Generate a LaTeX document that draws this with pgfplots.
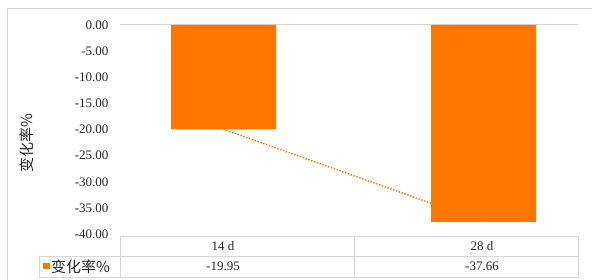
\documentclass[border=0pt]{standalone}
\usepackage{pgfplots}
\pgfplotsset{compat=1.18}
\usepackage{fontspec}
\setmainfont{Liberation Serif}
\newfontfamily\cjk{Noto Sans CJK SC}
\definecolor{barorange}{RGB}{255,118,0}
\definecolor{gridgray}{RGB}{214,214,214}
\definecolor{textgray}{RGB}{38,38,38}
\begin{document}
\begin{tikzpicture}[x=1pt,y=1pt]
\path[use as bounding box] (0,0) rectangle (592,280);
\begin{scope}
\clip (0,0) rectangle (592,280);
% outer frame
\draw[gridgray, line width=0.8pt] (7,-5) -- (7,272) -- (600,272);
\begin{axis}[
  at={(120pt,45.8pt)}, anchor=south west,
  scale only axis, width=458pt, height=209.2pt,
  xmin=0, xmax=1, ymin=-40, ymax=0,
  ytick={-40,-35,...,0},
  xtick=\empty,
  axis line style={draw=none},
  major tick length=0pt,
  yticklabel style={font=\fontsize{13}{15}\selectfont, text=textgray, xshift=-8pt},
  /pgf/number format/assume math mode=true,
  yticklabel={\pgfmathprintnumber[fixed, fixed zerofill, precision=2]{\tick}},
  clip=false,
]
\draw[gridgray, line width=1pt] (axis cs:0,0) -- (axis cs:1,0);
\addplot[barorange, line width=1.4pt, dash pattern=on 1.4pt off 1.6pt] coordinates {(0.226,-19.95) (0.794,-37.66)};
\addplot[ybar, bar width=105pt, fill=barorange, draw=none, bar shift=0pt] coordinates {(0.226,-19.95) (0.794,-37.66)};
\end{axis}
% y label
\node[rotate=90, text=textgray, font=\cjk\fontsize{15}{17}\selectfont] at (27,137) {变化率\%};
% data table
\draw[gridgray, line width=0.8pt] (120,44) -- (578,44) -- (578,3) -- (39,3) -- (39,24) -- (578,24);
\draw[gridgray, line width=0.8pt] (120,44) -- (120,3);
\draw[gridgray, line width=0.8pt] (354,44) -- (354,3);
\begin{scope}[every node/.style={font=\fontsize{13}{15}\selectfont, text=textgray}]
\node at (223,34) {14 d};
\node at (482,34) {28 d};
\node at (223,13.5) {-19.95};
\node at (482,13.5) {-37.66};
\end{scope}
\fill[barorange] (43,10.5) rectangle (49.5,17);
\node[anchor=west, text=textgray, font=\cjk\fontsize{15}{17}\selectfont, inner sep=0pt] at (51,13.5) {变化率\%};
\end{scope}
\end{tikzpicture}
\end{document}
